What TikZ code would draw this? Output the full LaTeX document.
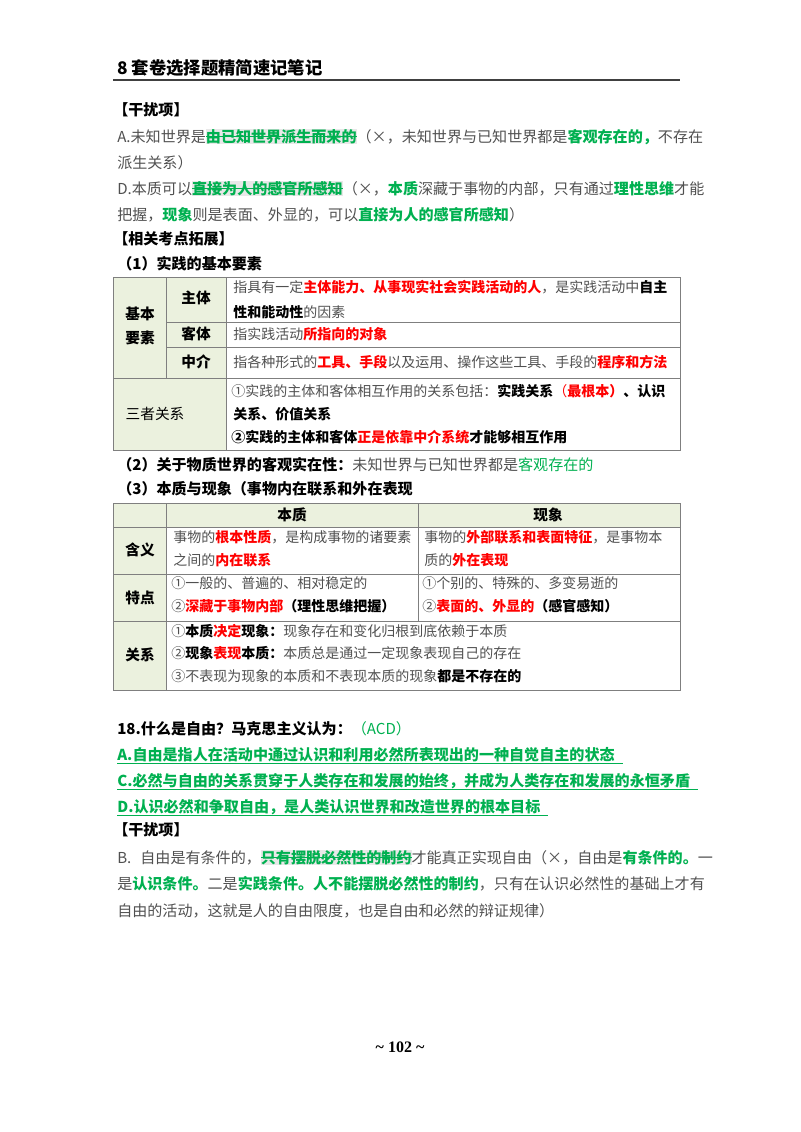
\documentclass[tikz,border=0pt]{standalone}
\usepackage{fontspec}
\setmainfont{Noto Sans CJK SC}
\newfontfamily\serifnum{Liberation Serif}
\definecolor{gr}{HTML}{00B050}
\definecolor{rd}{HTML}{FF0000}
\definecolor{bodygray}{HTML}{505050}
\definecolor{cellg}{HTML}{EBF1DE}
\definecolor{hl}{HTML}{E8E8E8}
\definecolor{gridc}{HTML}{7F7F7F}
\newcommand\G[1]{\textcolor{gr}{\bfseries #1}}
\newcommand\Gn[1]{\textcolor{gr}{#1}}
\newcommand\R[1]{\textcolor{rd}{\bfseries #1}}
\newcommand\B[1]{\textcolor{black}{\bfseries #1}}
\newcommand\stk[1]{{\setbox0\hbox{#1}\fboxsep=0pt\colorbox{hl}{\rlap{\raisebox{0.32em}{\textcolor{gr}{\rule{\wd0}{0.7pt}}}}\box0}}}
\newcommand\ulg[1]{{\setbox0\hbox{#1}\rlap{\raisebox{-0.25em}{\textcolor{gr}{\rule{\dimexpr\wd0+6pt\relax}{0.8pt}}}}\box0}}
\tikzset{
 txt/.style={anchor=base west, inner sep=0, text=bodygray, font=\fontsize{11.3}{13}\selectfont},
 ttxt/.style={anchor=base west, inner sep=0, text=bodygray, font=\fontsize{10.5}{13}\selectfont},
 hd/.style={anchor=center, inner sep=0, text=black, font=\fontsize{11}{13}\selectfont\bfseries},
 grid/.style={draw=gridc, line width=0.6pt},
 cell/.style={fill=cellg}
}
\begin{document}
\begin{tikzpicture}[x=0.75pt,y=-0.75pt]
\useasboundingbox (0,0) rectangle (800,1132);
% header
\node[anchor=base west, inner sep=0, font=\fontsize{13}{15}\selectfont\bfseries] (title) at (117,74) {8 套卷选择题精简速记笔记};
\coordinate (rl) at (113,80); \coordinate (rr) at (680,80);
\draw[line width=1.3pt, draw=black!75] (rl) -- (rr);

\node[txt,text=black,font=\fontsize{11.3}{13}\selectfont\bfseries] (s1) at (113,115) {【干扰项】};
\node[txt] (a1) at (117,142) {A.未知世界是\stk{\G{由已知世界派生而来的}}（×，未知世界与已知世界都是\G{客观存在的，}不存在};
\node[txt] (a2) at (117,168) {派生关系）};
\node[txt] (d1) at (117,194) {D.本质可以\stk{\G{直接为人的感官所感知}}（×，\G{本质}深藏于事物的内部，只有通过\G{理性思维}才能};
\node[txt] (d2) at (117,220) {把握，\G{现象}则是表面、外显的，可以\G{直接为人的感官所感知}）};
\node[txt,text=black,font=\fontsize{11.3}{13}\selectfont\bfseries] (s2) at (113,244) {【相关考点拓展】};
\node[txt,text=black,font=\fontsize{11.3}{13}\selectfont\bfseries] (s3) at (117,269) {（1）实践的基本要素};

% table 1
\fill[cell] (113,277) rectangle (226,450);
\draw[grid] (113,277) rectangle (680,450);
\draw[grid] (166,277) -- (166,378);
\draw[grid] (226,277) -- (226,450);
\draw[grid] (166,322) -- (680,322);
\draw[grid] (166,347) -- (680,347);
\draw[grid] (113,378) -- (680,378);
\node[hd] (jb1) at (140,314) {基本};
\node[hd] (jb2) at (140,338) {要素};
\node[hd] (zt) at (196,298) {主体};
\node[hd] (kt) at (196,334) {客体};
\node[hd] (zj) at (196,362) {中介};
\node[hd,font=\fontsize{11}{13}\selectfont] (sz) at (155,414) {三者关系};
\node[ttxt] (t11) at (233,292) {指具有一定\R{主体能力、从事现实社会实践活动的人}，是实践活动中\B{自主}};
\node[ttxt] (t12) at (233,317) {\B{性和能动性}的因素};
\node[ttxt] (t13) at (233,339) {指实践活动\R{所指向的对象}};
\node[ttxt] (t14) at (233,367) {指各种形式的\R{工具、手段}以及运用、操作这些工具、手段的\R{程序和方法}};
\node[ttxt] (t15) at (231,396) {①实践的主体和客体相互作用的关系包括：\B{实践关系}\textcolor{rd}{（\bfseries 最根本）}\B{、认识}};
\node[ttxt] (t16) at (233,419) {\B{关系、价值关系}};
\node[ttxt] (t17) at (231,442) {\B{②实践的主体和客体}\R{正是依靠中介系统}\B{才能够相互作用}};

\node[txt] (p2) at (117,470) {\B{（2）关于物质世界的客观实在性：}未知世界与已知世界都是\Gn{客观存在的}};
\node[txt] (p3) at (117,494) {\B{（3）本质与现象（事物内在联系和外在表现}};

% table 2
\fill[cell] (113,503) rectangle (680,527);
\fill[cell] (113,527) rectangle (166,690);
\draw[grid] (113,503) rectangle (680,690);
\draw[grid] (166,503) -- (166,690);
\draw[grid] (418,503) -- (418,621);
\draw[grid] (113,527) -- (680,527);
\draw[grid] (113,574) -- (680,574);
\draw[grid] (113,621) -- (680,621);
\node[hd] (bz) at (292,515) {本质};
\node[hd] (xx) at (548,515) {现象};
\node[hd] (hy) at (140,550) {含义};
\node[hd] (td) at (140,598) {特点};
\node[hd] (gx) at (140,655) {关系};
\node[ttxt] (u1) at (173,542) {事物的\R{根本性质}，是构成事物的诸要素};
\node[ttxt] (u2) at (173,565) {之间的\R{内在联系}};
\node[ttxt] (v1) at (424,542) {事物的\R{外部联系和表面特征}，是事物本};
\node[ttxt] (v2) at (424,565) {质的\R{外在表现}};
\node[ttxt] (u3) at (171,588) {①一般的、普遍的、相对稳定的};
\node[ttxt] (u4) at (171,611) {②\R{深藏于事物内部}\B{（理性思维把握）}};
\node[ttxt] (v3) at (422,588) {①个别的、特殊的、多变易逝的};
\node[ttxt] (v4) at (422,611) {②\R{表面的、外显的}\B{（感官感知）}};
\node[ttxt] (w1) at (171,636) {①\B{本质}\R{决定}\B{现象：}现象存在和变化归根到底依赖于本质};
\node[ttxt] (w2) at (171,658) {②\B{现象}\R{表现}\B{本质：}本质总是通过一定现象表现自己的存在};
\node[ttxt] (w3) at (171,681) {③不表现为现象的本质和不表现本质的现象\B{都是不存在的}};

% question 18
\node[txt] (q) at (117,734) {\B{18.什么是自由？马克思主义认为：}\Gn{（ACD）}};
\node[txt] (qa) at (117,760) {\ulg{\G{A.自由是指人在活动中通过认识和利用必然所表现出的一种自觉自主的状态}}};
\node[txt] (qc) at (117,786) {\ulg{\G{C.必然与自由的关系贯穿于人类存在和发展的始终，并成为人类存在和发展的永恒矛盾}}};
\node[txt] (qd) at (117,812) {\ulg{\G{D.认识必然和争取自由，是人类认识世界和改造世界的根本目标}}};
\node[txt,text=black,font=\fontsize{11.3}{13}\selectfont\bfseries] (s4) at (113,835) {【干扰项】};
\node[txt] (b1) at (117,863) {B.\hspace{0.6em}自由是有条件的，\stk{\G{只有摆脱必然性的制约}}才能真正实现自由（×，自由是\G{有条件的。}一};
\node[txt] (b2) at (117,889) {是\G{认识条件。}二是\G{实践条件。人不能摆脱必然性的制约}，只有在认识必然性的基础上才有};
\node[txt] (b3) at (117,916) {自由的活动，这就是人的自由限度，也是自由和必然的辩证规律）};

\node[anchor=center, inner sep=0, font=\serifnum\fontsize{12}{14}\selectfont\bfseries] (foot) at (400,1047) {\textasciitilde\ 102 \textasciitilde};
\end{tikzpicture}
\end{document}
